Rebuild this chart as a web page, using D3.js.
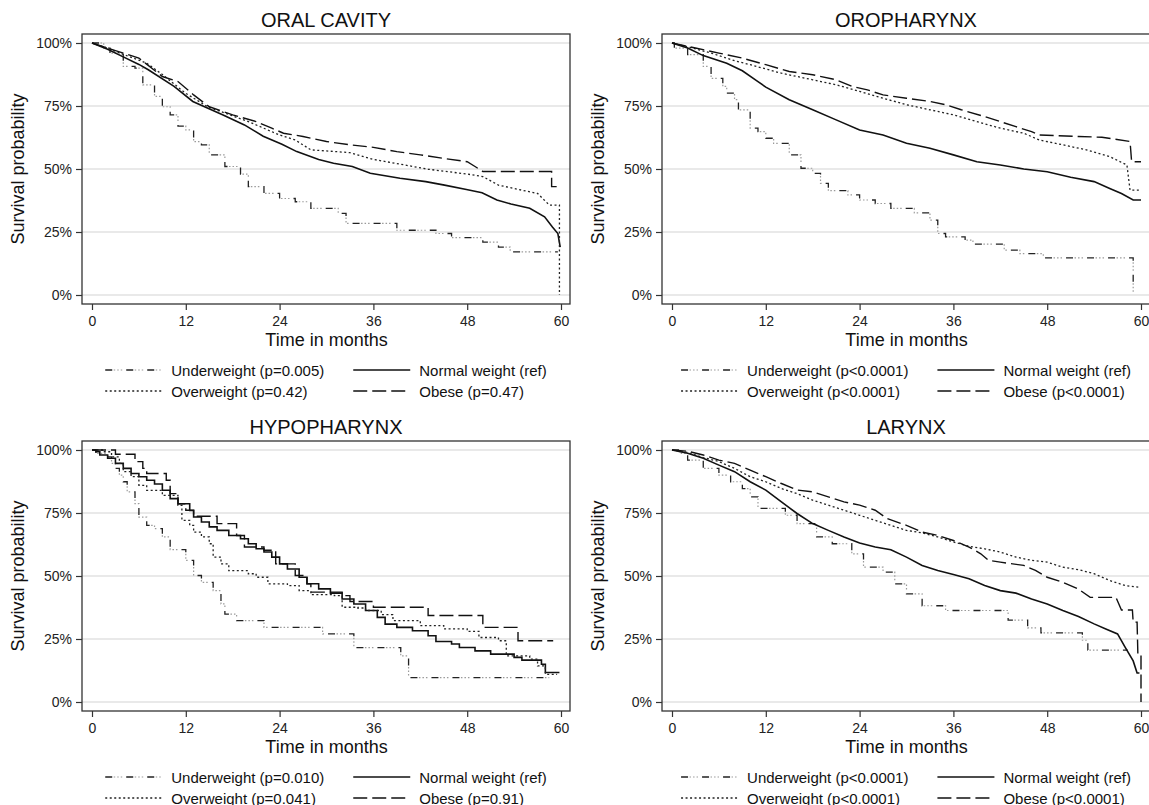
<!DOCTYPE html>
<html lang="en">
<head>
  <meta charset="UTF-8">
  <title>Survival by BMI group</title>
  <script src="https://cdn.jsdelivr.net/npm/d3@7"></script>
  <style>
    body { margin: 0; background: #fff; }
    svg { display: block; font-family: "Liberation Sans", Arial, sans-serif; }
  </style>
</head>
<body>
<div id="grafica"></div>

<script>
// ticks and labels
const xTicks = [0, 12, 24, 36, 48, 60]
const yTicks = [0, 25, 50, 75, 100]
const panelTitles = ['ORAL CAVITY', 'OROPHARYNX', 'HYPOPHARYNX', 'LARYNX']
const groups = ['Underweight', 'Normal weight', 'Overweight', 'Obese']
const pOral = ['(p=0.005)', '(ref)', '(p=0.42)', '(p=0.47)']
const pOro = ['(p<0.0001)', '(ref)', '(p<0.0001)', '(p<0.0001)']
const pHypo = ['(p=0.010)', '(ref)', '(p=0.041)', '(p=0.91)']
const pLary = ['(p<0.0001)', '(ref)', '(p<0.0001)', '(p<0.0001)']

// survival curves: [month, survival %]
const oralUnder = [[0,100],[1.5,98],[2.3,96],[4,90.7],[5.5,90],[6.5,83.4],[8,78.8],[9,74.7],[10,71.5],[11,67],[12,65.5],[13,60.9],[14,59.6],[15,55.6],[17,51],[19,48],[20,43],[22,40.3],[24,38.3],[26,37],[28,34.4],[31.5,32.4],[32.5,28.4],[39,25.7],[44,24.4],[46,22.8],[50,21],[52,19],[53.5,17.1],[59.6,17.1]]
const oralNormal = [[0,100],[2,97.5],[4,94.5],[6,91.5],[7.2,89.4],[10.5,82.8],[12.9,76.8],[16.7,71.5],[19.5,67.5],[21.9,63],[24.3,59.8],[26.2,56.9],[29,53.8],[30.9,52.3],[33.3,51],[35.6,48.3],[39.4,46.3],[42.7,45],[45.1,43.6],[47.9,41.9],[49.9,40.6],[51.8,37.7],[53.6,36.1],[56,34.4],[57.9,31],[58.9,27],[59.6,24.4],[59.9,19]]
const oralOver = [[0,100],[2,98],[4,95.5],[7,92],[9,87.5],[12,80],[14.8,74.7],[20,68.8],[24,63.5],[26,61.5],[28,57.6],[33,56.5],[36,53.8],[40,51.6],[43,49.9],[48,48],[50,47],[52,43.6],[55,41.6],[57,40.3],[58.5,35.7],[59.8,35.7],[59.8,0]]
const oralObese = [[0,100],[3,97],[6,94],[9,86.7],[11,84.7],[13,79.4],[15,74.7],[18,71.5],[21,68.8],[23,66.2],[24.5,64.2],[27,62.9],[30,60.9],[33,59.6],[36,58.6],[39,56.9],[42,55.6],[45,54.2],[48,52.9],[49,51],[50,49],[58.8,49],[58.8,43],[60,43]]

const oroUnder = [[0,100],[0.3,98],[2,95.4],[4,90.7],[5,86],[6.5,82.8],[7,80.1],[8,77.5],[8.5,73.5],[10,66.2],[11,64.8],[12,62.2],[13,60.2],[15,55.6],[16.5,50.3],[18,48.3],[19,44.3],[20,41.4],[22.5,39.7],[24,37.7],[26,36.3],[28,34.4],[31,32.6],[33,29.7],[34,24.4],[35,23.1],[37.5,21.8],[38.5,20.2],[42.5,17.8],[44.5,16.4],[47.5,14.7],[59,14.7],[59,0]]
const oroNormal = [[0,100],[2,98],[4,95],[7,92],[9,89],[11,84.7],[12,82.5],[15,77.5],[18,73.5],[21,69.5],[24,65.5],[27,63.5],[30,60.2],[33,58.2],[36,55.6],[39,52.9],[42,51.6],[45,50],[48,48.9],[51,46.7],[54,45],[56,42.3],[57.5,40.3],[59,37.7],[60,37.7]]
const oroOver = [[0,100],[2,98.5],[5,96],[8,93],[10,91.4],[14,88],[18,85.4],[21,83.4],[24,80.8],[27,78.1],[30,75.5],[33,73.5],[36,71.5],[39,68.8],[42,66.2],[45,64.2],[47,61.5],[50,59.6],[53,57.6],[56,54.9],[58.2,51.6],[58.6,41.6],[59.8,41.6]]
const oroObese = [[0,100],[3,98],[6,96],[9,94],[12,91.4],[15,88.7],[18,87.4],[21,85.4],[23,82.8],[25,81.4],[27,79.4],[30,78.1],[33,76.8],[35,75.5],[37,73.5],[40,70.8],[42,68.8],[44,66.8],[46,64.8],[47,63.5],[52,62.9],[55,62.6],[58.6,60.9],[58.8,52.9],[60,52.9]]

const hypoUnder = [[0,100],[0.5,98.7],[2,97.3],[2.5,94.7],[3,92.7],[3.5,90],[4,87.4],[4.5,83.4],[5.5,78.7],[6,73.4],[7,70.1],[8,68.8],[9,65.5],[10,60.5],[12,56.2],[13,50.2],[14,47.5],[15.5,44.2],[16.5,38.9],[17,34.9],[18.5,32.3],[22,29.6],[29.5,27],[33.5,21.6],[39.5,18.3],[40.5,9.7],[58.5,9.7]]
const hypoNormal = [[0,100],[0.5,99.3],[1,98],[2,96.7],[3,94.7],[4,92.7],[5,90.7],[6,89.4],[7,88],[8,86.5],[9,84],[10,80.7],[11,78.7],[12.5,76],[13,73.4],[14,71.4],[15,69.5],[16,68.1],[17.5,66.1],[19,64.8],[20,62.8],[21,60.8],[22,59.5],[23,57.5],[24,54.8],[25,52.8],[26.5,49.5],[27.5,46.9],[29,44.9],[30.5,43.2],[32,40.9],[33.5,38.9],[35,36.3],[36.5,33.6],[37.5,30.9],[39,29.6],[41,28.3],[43,26.3],[44,24],[46,23],[47,21.6],[49,20.3],[51,19],[54,17.7],[55,16.6],[57.5,15],[58,11.7],[59.8,11.7]]
const hypoOver = [[0,100],[1.5,99.3],[2.5,97.3],[3.5,94.7],[4,91.4],[5,89.4],[6,86],[7,84],[9,82],[11,78],[11.5,72.1],[12.5,70.1],[13,67.4],[14,65.5],[15,62.8],[15.5,57.5],[16.5,54.8],[17.5,52.1],[20,50.9],[21,49.5],[22.5,46.9],[25,46.2],[26.5,44.2],[28,42.6],[31,42.2],[32,37.6],[34,37.3],[35,36.3],[37,34.7],[38.5,32.3],[42,30.3],[45,29],[48,28],[49.5,25.6],[52,24.3],[53,18.3],[56,17],[57,14.3],[58,11],[59.5,11]]
const hypoObese = [[0,100],[3,98.3],[5.5,95.4],[6.5,92.7],[7,90.7],[9.5,88],[10,82.7],[11,78.7],[12,76.1],[13,73.7],[16,70.8],[18.5,66.1],[19.5,61.5],[22,60.2],[23.5,54.8],[26,50.2],[27.5,46.9],[28,43.6],[32,42.2],[33,39.9],[36,37.6],[43,34.3],[50,29.6],[54.5,24.3],[59,24.3]]

const laryUnder = [[0,100],[1,98.7],[2,96],[4,92.7],[6,90],[7.5,87.4],[9,84.7],[10,81.4],[11,76.8],[14.5,74.1],[16,70.8],[18.5,65.5],[20.5,62.8],[23,58.8],[24.5,53.5],[27,51.5],[28.5,46.9],[30,42.9],[32,38.2],[35,36.3],[43,32.5],[45.5,29.4],[47.2,27.4],[52.5,24.5],[53.2,20.6],[58.3,20.6]]
const laryNormal = [[0,100],[2,98.7],[4,96.7],[6,94],[8,91.4],[10,87.4],[12,84.1],[14,79.4],[16,74.8],[18,70.8],[20,68.1],[22,65.5],[24,63.1],[26,61.5],[28,60.4],[30,57.5],[32,54.2],[34,52.2],[36,50.6],[38,48.9],[40,46.2],[42,44.2],[44,43.2],[46,40.9],[48,38.9],[50,36.3],[52,33.9],[54,31],[55.5,29],[57,27],[58,21.6],[59,16.3],[59.5,11.5],[59.8,11.5]]
const laryOver = [[0,100],[2,99],[4,97],[6,95.4],[8,92.7],[10,89.4],[12,87.4],[14,84.7],[16,82.7],[18,80.1],[20,78.1],[22,76.1],[24,74.1],[26,72.1],[28,70.1],[30,68.1],[32,67.1],[34,65.5],[36,63.5],[38,61.8],[40,60.8],[42,59.5],[44,57.5],[46,56.2],[48,55.5],[50,53.5],[52,52.5],[54,50.9],[56,48.2],[58,46.2],[59.8,45.5]]
const laryObese = [[0,100],[2,99.5],[4,98],[6,96],[8,94.7],[10,92],[12,89.4],[14,86.7],[16,84.1],[18,83.4],[20,81.4],[22,79.4],[24,78.1],[26,76.1],[27.5,72.8],[30,70.1],[32,67.4],[34,66.1],[36,64.1],[38,61.5],[39.5,58.8],[40.5,56.2],[42,55.5],[45,54.2],[46.5,52.2],[48,49.5],[50,47.5],[52,44.8],[53.5,41.5],[56.8,41.5],[57.5,36.5],[58.9,36.5],[59,31.7],[59.5,31.7],[59.6,19],[60,19],[60,0]]

// panels (curve choice: stepped for small groups)
const panels = [
  {title: panelTitles[0], p: pOral, series: [oralUnder, oralNormal, oralOver, oralObese], step: [true, false, false, false], dx: 0, dy: 0},
  {title: panelTitles[1], p: pOro, series: [oroUnder, oroNormal, oroOver, oroObese], step: [true, false, false, false], dx: 580, dy: 0},
  {title: panelTitles[2], p: pHypo, series: [hypoUnder, hypoNormal, hypoOver, hypoObese], step: [true, true, true, true], dx: 0, dy: 407},
  {title: panelTitles[3], p: pLary, series: [laryUnder, laryNormal, laryOver, laryObese], step: [true, false, false, false], dx: 580, dy: 407}
]

ancho_total = 1149
alto_total = 805

// frame of one panel (top-left), other panels are shifted
frame = {left: 82, right: 570, top: 34, bottom: 304}

svg = d3.select('#grafica')
  .append('svg')
  .attr('width', ancho_total)
  .attr('height', alto_total)

x = d3.scaleLinear().domain([0, 60]).range([92, 561])
y = d3.scaleLinear().domain([0, 100]).range([295, 43])

lineLinear = d3.line().x(d => x(d[0])).y(d => y(d[1]))
lineStep = d3.line().x(d => x(d[0])).y(d => y(d[1])).curve(d3.curveStepAfter)

// one style per group; underweight is dash + light dots drawn as two layers
function drawStyled(sel, k, dAttr) {
  if (k === 0) {
    sel.append('path').attr('d', dAttr).attr('fill', 'none')
      .attr('stroke', '#222').attr('stroke-width', 1.3).attr('stroke-dasharray', '7,14')
    sel.append('path').attr('d', dAttr).attr('fill', 'none')
      .attr('stroke', '#9a9a9a').attr('stroke-width', 1.2).attr('stroke-dasharray', '0,8.5,1.5,2,1.5,2,1.5,4')
  } else if (k === 1) {
    sel.append('path').attr('d', dAttr).attr('fill', 'none')
      .attr('stroke', '#111').attr('stroke-width', 1.6)
  } else if (k === 2) {
    sel.append('path').attr('d', dAttr).attr('fill', 'none')
      .attr('stroke', '#222').attr('stroke-width', 1.3).attr('stroke-dasharray', '2,2.5')
  } else {
    sel.append('path').attr('d', dAttr).attr('fill', 'none')
      .attr('stroke', '#111').attr('stroke-width', 1.4).attr('stroke-dasharray', '14,5')
  }
}

panels.forEach(function(pn) {
  g = svg.append('g').attr('transform', `translate(${pn.dx}, ${pn.dy})`)
  cx = (frame.left + frame.right) / 2

  // title
  g.append('text')
    .attr('x', cx).attr('y', 27)
    .attr('text-anchor', 'middle')
    .attr('font-size', 20)
    .attr('fill', '#111')
    .text(pn.title)

  // gridlines
  g.selectAll('.grid')
    .data(yTicks)
    .enter()
    .append('line')
      .attr('x1', frame.left).attr('x2', frame.right)
      .attr('y1', d => y(d)).attr('y2', d => y(d))
      .attr('stroke', '#e2e2e2').attr('stroke-width', 1.3)

  // curves
  pn.series.forEach(function(s, k) {
    dAttr = pn.step[k] ? lineStep(s) : lineLinear(s)
    drawStyled(g, k, dAttr)
  })

  // frame
  g.append('rect')
    .attr('x', frame.left).attr('y', frame.top)
    .attr('width', frame.right - frame.left)
    .attr('height', frame.bottom - frame.top)
    .attr('fill', 'none').attr('stroke', '#333').attr('stroke-width', 1.3)

  // axes
  yAxisCall = d3.axisLeft(y).tickValues(yTicks).tickFormat(d => d + '%').tickSize(6).tickPadding(4)
  ya = g.append('g').attr('transform', `translate(${frame.left}, 0)`).call(yAxisCall)

  xAxisCall = d3.axisBottom(x).tickValues(xTicks).tickSize(6).tickPadding(6)
  xa = g.append('g').attr('transform', `translate(0, ${frame.bottom})`).call(xAxisCall)

  ;[ya, xa].forEach(a => {
    a.select('.domain').remove()
    a.selectAll('line').attr('stroke', '#333').attr('stroke-width', 1.2)
    a.selectAll('text').attr('font-size', 14).attr('fill', '#222')
      .attr('font-family', '"Liberation Sans", Arial, sans-serif')
  })

  // axis titles
  g.append('text')
    .attr('transform', `translate(24, ${(y(0) + y(100)) / 2}) rotate(-90)`)
    .attr('text-anchor', 'middle')
    .attr('font-size', 18)
    .attr('fill', '#111')
    .text('Survival probability')

  g.append('text')
    .attr('x', (x(0) + x(60)) / 2).attr('y', 345.5)
    .attr('text-anchor', 'middle')
    .attr('font-size', 18)
    .attr('fill', '#111')
    .text('Time in months')

  // legend: two columns, rows (Underweight | Normal), (Overweight | Obese)
  leg = g.append('g')
  labels = groups.map((gr, k) => gr + ' ' + pn.p[k])
  widths = labels.map(function(t) {
    tmp = leg.append('text').attr('font-size', 15).text(t)
    w = tmp.node().getComputedTextLength()
    tmp.remove()
    return w
  })
  sampleLen = 57
  gap = 9
  colGap = 29
  w1 = Math.max(widths[0], widths[2])
  w2 = Math.max(widths[1], widths[3])
  total = sampleLen + gap + w1 + colGap + sampleLen + gap + w2
  start = cx - total / 2
  col2 = start + sampleLen + gap + w1 + colGap
  rowY = [370, 391]
  ;[[0, 0, 0], [1, 1, 0], [2, 0, 1], [3, 1, 1]].forEach(function(e) {
    k = e[0]
    lx = e[1] === 0 ? start : col2
    ly = rowY[e[2]]
    drawStyled(leg, k, `M${lx},${ly}H${lx + sampleLen}`)
    leg.append('text')
      .attr('x', lx + sampleLen + gap).attr('y', ly + 5.5)
      .attr('font-size', 15)
      .attr('fill', '#111')
      .text(labels[k])
  })
})
</script>
</body>
</html>
